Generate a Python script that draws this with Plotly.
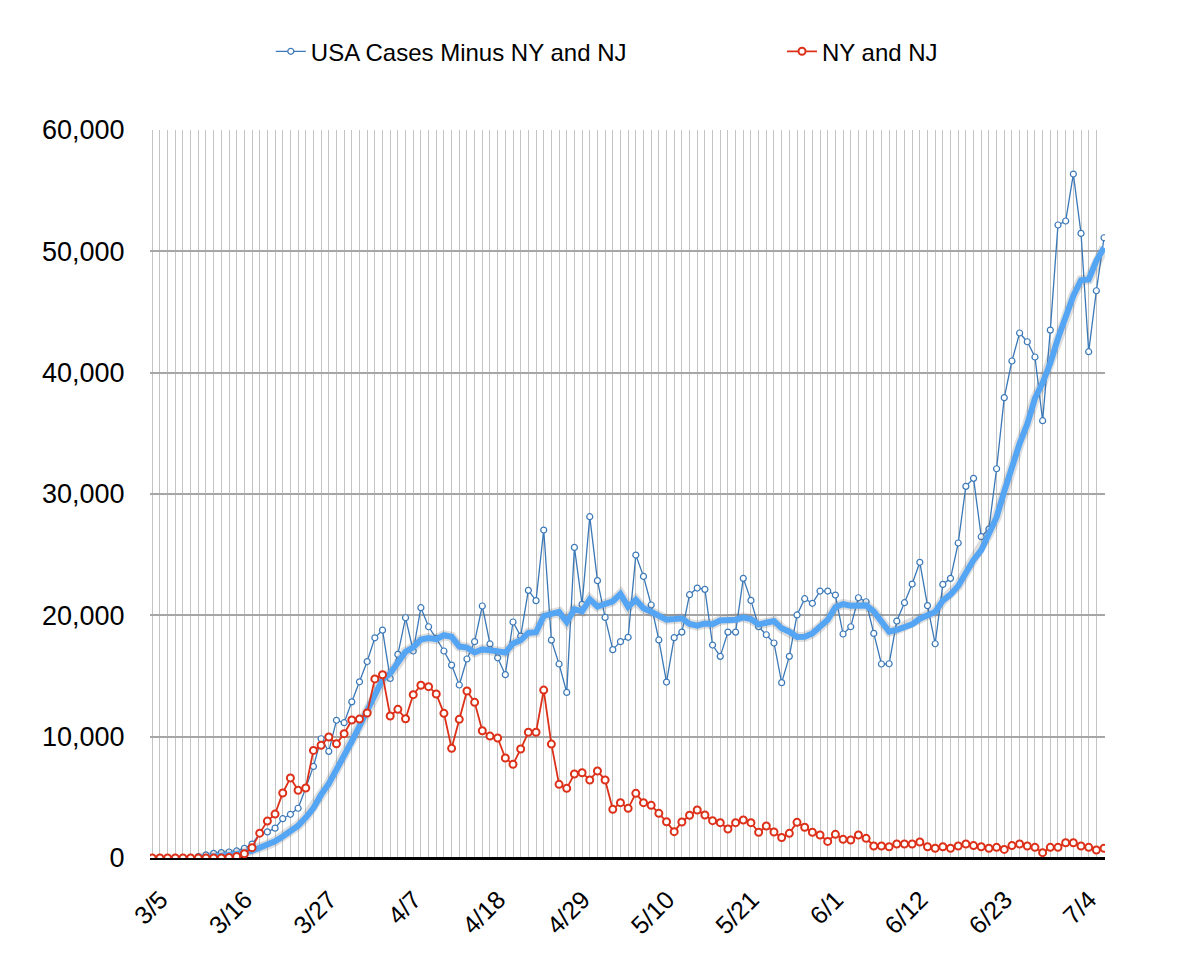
import pandas as pd
import plotly.graph_objects as go

# daily points, 3/3 .. 7/5 (labels every 11 days starting 3/5)
days = pd.date_range("2020-03-03", "2020-07-05", freq="D")

usa_minus_ny_nj = [
    0, 0, 0, 0, 20, 60, 110, 250, 385, 440,
    495, 580, 800, 1150, 2000, 2150, 2460, 3240, 3600, 4100,
    5770, 7550, 9830, 8790, 11350, 11150, 12870, 14520, 16190, 18150,
    18780, 14800, 16780, 19800, 17060, 20630, 19060, 18100, 17060, 15900,
    14260, 16400, 17830, 20770, 17640, 16500, 15110, 19450, 18290, 22060,
    21210, 27030, 17960, 15990, 13650, 25600, 20900, 28130, 22860, 19830,
    17170, 17830, 18190, 24970, 23210, 20850, 17970, 14500, 18160, 18620,
    21700, 22250, 22140, 17550, 16620, 18620, 18620, 23050, 21230, 19060,
    18400, 17720, 14450, 16620, 20030, 21370, 20990, 22000, 22000, 21670,
    18460, 19060, 21450, 21120, 18510, 15990, 16010, 19530, 21040, 22580,
    24370, 20800, 17660, 22550, 23050, 25960, 30630, 31290, 26480, 27110,
    32080, 37940, 40960, 43270, 42550, 41290, 36040, 43510, 52170, 52500,
    56370, 51480, 41730, 46750, 51120,
]

ny_nj = [
    0, 0, 0, 0, 0, 0, 0, 0, 0, 0,
    50, 120, 350, 850, 2050, 3040, 3620, 5360, 6600, 5580,
    5770, 8870, 9290, 9970, 9420, 10250, 11370, 11450, 11950, 14760,
    15100, 11700, 12250, 11480, 13460, 14240, 14120, 13520, 11920, 9040,
    11430, 13760, 12830, 10490, 10050, 9890, 8240, 7720, 8980, 10360,
    10360, 13840, 9390, 6070, 5740, 6920, 7030, 6430, 7170, 6430,
    4010, 4560, 4090, 5330, 4560, 4340, 3680, 2990, 2170, 2970,
    3520, 3960, 3540, 3080, 2910, 2390, 2910, 3130, 2910, 2120,
    2640, 2140, 1680, 2030, 2940, 2530, 2120, 1900, 1370, 1950,
    1540, 1480, 1900, 1620, 990, 990, 930, 1150, 1150, 1150,
    1320, 930, 800, 930, 800, 990, 1150, 1020, 930, 800,
    880, 710, 1020, 1150, 990, 880, 440, 880, 880, 1260,
    1260, 990, 880, 660, 800,
]

# thick light-blue trend line (starts on the 7th day)
trend = [None] * 6 + [
    30, 60, 120, 180, 250, 330, 440, 590, 840, 1090,
    1380, 1770, 2200, 2670, 3330, 4120, 5220, 6130, 7280, 8360,
    9620, 10870, 12100, 13290, 14720, 15210, 16010, 17000, 17370, 18000,
    18130, 18030, 18360, 18230, 17440, 17340, 16940, 17190, 17120, 17040,
    16930, 17670, 17940, 18550, 18610, 19950, 20160, 20280, 19460, 20500,
    20330, 21320, 20730, 20990, 21160, 21760, 20700, 21280, 20580, 20290,
    20030, 19650, 19690, 19750, 19290, 19150, 19330, 19270, 19580, 19640,
    19640, 19840, 19690, 19250, 19370, 19530, 18930, 18650, 18220, 18240,
    18510, 19030, 19640, 20670, 20930, 20790, 20800, 20820, 20320, 19470,
    18660, 18810, 19090, 19250, 19720, 20050, 20280, 21220, 21720, 22420,
    23570, 24560, 25370, 26720, 28090, 30210, 32360, 34160, 35770, 37890,
    39160, 40790, 42830, 44480, 46350, 47620, 47690, 49220, 50300,
]

tick_dates = ["2020-03-05", "2020-03-16", "2020-03-27", "2020-04-07", "2020-04-18", "2020-04-29",
              "2020-05-10", "2020-05-21", "2020-06-01", "2020-06-12", "2020-06-23", "2020-07-04"]
tick_text = ["3/5", "3/16", "3/27", "4/7", "4/18", "4/29", "5/10", "5/21", "6/1", "6/12", "6/23", "7/4"]

blue = "#3a78b8"
red = "#dd3019"
light_blue = "#55a5f5"
font = "Liberation Sans, Arial, Helvetica, sans-serif"

fig = go.Figure()

fig.add_trace(go.Scatter(
    x=days, y=usa_minus_ny_nj, name="USA Cases Minus NY and NJ",
    mode="lines+markers", legend="legend",
    line=dict(color=blue, width=1.3),
    marker=dict(symbol="circle", size=6, color="white", line=dict(color=blue, width=1.2)),
))

# soft shadow under the trend line
fig.add_trace(go.Scatter(
    x=days, y=trend, mode="lines", showlegend=False, hoverinfo="skip",
    line=dict(color="rgba(90,90,90,0.2)", width=10),
))
fig.add_trace(go.Scatter(
    x=days, y=trend, mode="lines", showlegend=False, name="trend",
    line=dict(color=light_blue, width=6),
))

fig.add_trace(go.Scatter(
    x=days, y=ny_nj, name="NY and NJ",
    mode="lines+markers", legend="legend2",
    line=dict(color=red, width=1.8),
    marker=dict(symbol="circle", size=7, color="white", line=dict(color=red, width=2)),
))

legend_style = dict(
    orientation="h", xref="container", yref="container",
    y=0.955, xanchor="left", yanchor="middle",
    font=dict(size=24), itemwidth=30, bgcolor="rgba(0,0,0,0)",
)

# the page adds an 8px body margin, so margins are trimmed by that much
fig.update_layout(
    width=1200, height=971,
    paper_bgcolor="white", plot_bgcolor="white",
    margin=dict(l=142, r=103, t=122, b=121, autoexpand=False),
    font=dict(family=font, size=20, color="black"),
    legend=dict(x=0.219, **legend_style),
    legend2=dict(x=0.645, **legend_style),
)

fig.update_xaxes(
    range=["2020-03-02 17:00", "2020-07-05 03:00"],
    tickvals=tick_dates, ticktext=tick_text, tickangle=-45,
    ticks="outside", ticklen=16, tickcolor="rgba(0,0,0,0)",
    ticklabelshift=-7,
    tickfont=dict(size=25),
    showgrid=True, gridcolor="#c4c4c4", gridwidth=1.4,
    minor=dict(dtick=86400000, tick0="2020-03-03", showgrid=True,
               gridcolor="#c4c4c4", gridwidth=1.4),
    showline=False, zeroline=False,
)

fig.update_yaxes(
    range=[0, 60000], dtick=10000, tickformat=",",
    ticks="outside", ticklen=19, tickcolor="rgba(0,0,0,0)",
    tickfont=dict(size=27),
    showgrid=True, gridcolor="#a6a6a6", gridwidth=2,
    zeroline=True, zerolinecolor="black", zerolinewidth=3,
)

fig.write_html("out.html")
